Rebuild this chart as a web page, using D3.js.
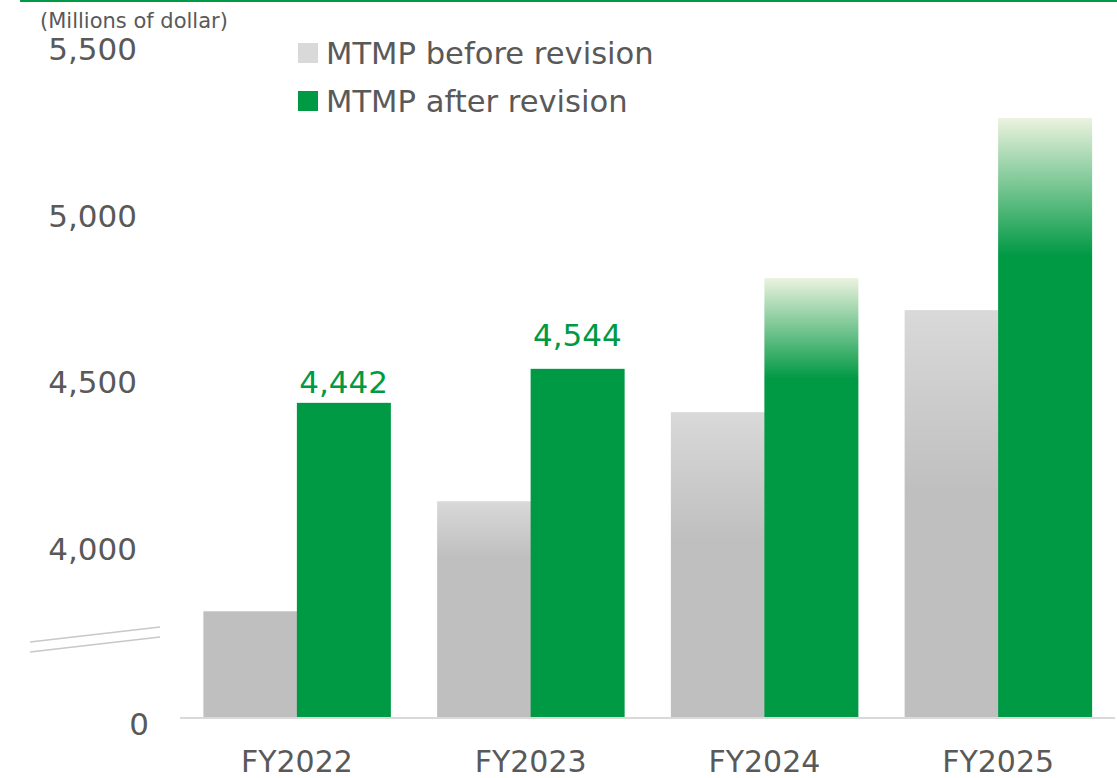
<!DOCTYPE html>
<html>
<head>
<meta charset="utf-8">
<script src="https://cdn.jsdelivr.net/npm/d3@7"></script>
<style>
  body { margin: 0; background: #fff; }
  text { font-family: "DejaVu Sans", Verdana, sans-serif; }
</style>
</head>
<body>
<div id="chart"></div>
<script>
// data
var years = ["FY2022", "FY2023", "FY2024", "FY2025"];
var seriesNames = ["MTMP before revision", "MTMP after revision"];
var beforeValues = [3817, 4147, 4414, 4720];
var afterValues = [4442, 4544, 4816, 5296];
var labelled = [4442, 4544]; // only these carry value labels
var tickValues = [3500, 4000, 4500, 5000, 5500];
var tickLabels = ["0", "4,000", "4,500", "5,000", "5,500"];

// how much of each bar (from the top) fades out
var beforeFade = [0, 0.26, 0.42, 0.45];
var afterFade = [0, 0, 0.23, 0.23];
// gap between value label baseline and bar top
var labelGap = [10, 23];

var svgWidth = 1117;
var svgHeight = 778;
var green = "#009944";
var grey = "#bfbfbf";
var textGrey = "#595959";

var svg = d3.select("#chart")
  .append("svg")
  .attr("width", svgWidth)
  .attr("height", svgHeight);

var defs = svg.append("defs");

// scales
var x0 = d3.scaleBand()
  .domain(years)
  .range([180, 1115])
  .paddingInner(0.2)
  .paddingOuter(0.1);

var x1 = d3.scaleBand()
  .domain([0, 1])
  .range([0, x0.bandwidth()]);

var y = d3.scaleLinear()
  .domain([3500, 5500])
  .range([717, 50]);

// top rule
svg.append("line")
  .attr("x1", 20).attr("x2", svgWidth)
  .attr("y1", 1).attr("y2", 1)
  .attr("stroke", green)
  .attr("stroke-width", 2);

// unit label
svg.append("text")
  .attr("x", 40)
  .attr("y", 28)
  .attr("font-size", 21)
  .attr("fill", textGrey)
  .text("(Millions of dollar)");

// y axis labels
var leftAxis = d3.axisLeft(y)
  .tickValues(tickValues)
  .tickSize(0)
  .tickFormat((d, i) => tickLabels[i]);

var yAxis = svg.append("g")
  .attr("transform", "translate(137,0)")
  .call(leftAxis);
yAxis.select(".domain").remove();
yAxis.selectAll("text")
  .attr("font-size", 31)
  .attr("fill", textGrey)
  .attr("x", d => d === 3500 ? 12 : 0)
  .attr("dy", d => d === 3500 ? "0.55em" : "0.3em")
  .style("font-family", '"DejaVu Sans", Verdana, sans-serif');

// axis break marks
[0, 10].forEach(function (off) {
  svg.append("line")
    .attr("x1", 30).attr("y1", 642 + off)
    .attr("x2", 160).attr("y2", 627 + off)
    .attr("stroke", "#c8c8c8")
    .attr("stroke-width", 1.3);
});

// gradients
function addGradient(id, topColor, baseColor, fade) {
  var g = defs.append("linearGradient")
    .attr("id", id)
    .attr("x1", 0).attr("y1", 0)
    .attr("x2", 0).attr("y2", 1);
  g.append("stop").attr("offset", 0).attr("stop-color", fade > 0 ? topColor : baseColor);
  g.append("stop").attr("offset", fade).attr("stop-color", baseColor);
  g.append("stop").attr("offset", 1).attr("stop-color", baseColor);
}

years.forEach(function (yr, i) {
  addGradient("gb" + i, "#d9d9d9", grey, beforeFade[i]);
  addGradient("ga" + i, "#ecf2df", green, afterFade[i]);
});

var barData = years.map(function (yr, i) {
  return { year: yr, i: i, values: [beforeValues[i], afterValues[i]] };
});

var groups = svg.selectAll(".group")
  .data(barData)
  .enter()
  .append("g")
  .attr("class", "group")
  .attr("transform", d => `translate(${x0(d.year)},0)`);

groups.selectAll("rect")
  .data(d => d.values.map((v, s) => ({ v: v, s: s, i: d.i })))
  .enter()
  .append("rect")
  .attr("x", d => x1(d.s))
  .attr("y", d => y(d.v))
  .attr("width", x1.bandwidth() + 0.5)
  .attr("height", d => y(3500) - y(d.v))
  .attr("fill", d => `url(#${d.s === 0 ? "gb" : "ga"}${d.i})`);

// value labels
groups.filter(d => labelled.indexOf(d.values[1]) >= 0)
  .append("text")
  .attr("x", x1(1) + x1.bandwidth() / 2)
  .attr("y", d => y(d.values[1]) - labelGap[d.i])
  .attr("text-anchor", "middle")
  .attr("font-size", 31)
  .attr("fill", green)
  .text(d => d3.format(",")(d.values[1]));

// baseline
svg.append("line")
  .attr("x1", 180).attr("x2", 1115)
  .attr("y1", y(3500) + 1).attr("y2", y(3500) + 1)
  .attr("stroke", "#d9d9d9")
  .attr("stroke-width", 2);

// x labels
var bottomAxis = d3.axisBottom(x0).tickSize(0);
var xAxis = svg.append("g")
  .attr("transform", `translate(0,${y(3500)})`)
  .call(bottomAxis);
xAxis.select(".domain").remove();
xAxis.selectAll("text")
  .attr("font-size", 30)
  .attr("fill", textGrey)
  .attr("dy", 0)
  .attr("y", 55)
  .style("font-family", '"DejaVu Sans", Verdana, sans-serif');

// legend
var legend = svg.append("g");
[["#d9d9d9", 0], [green, 1]].forEach(function (item) {
  var row = item[1];
  legend.append("rect")
    .attr("x", 298)
    .attr("y", 43 + row * 48)
    .attr("width", 20)
    .attr("height", 20)
    .attr("fill", item[0]);
  legend.append("text")
    .attr("x", 326)
    .attr("y", 64 + row * 48)
    .attr("font-size", 30.6)
    .attr("fill", textGrey)
    .text(seriesNames[row]);
});
</script>
</body>
</html>
